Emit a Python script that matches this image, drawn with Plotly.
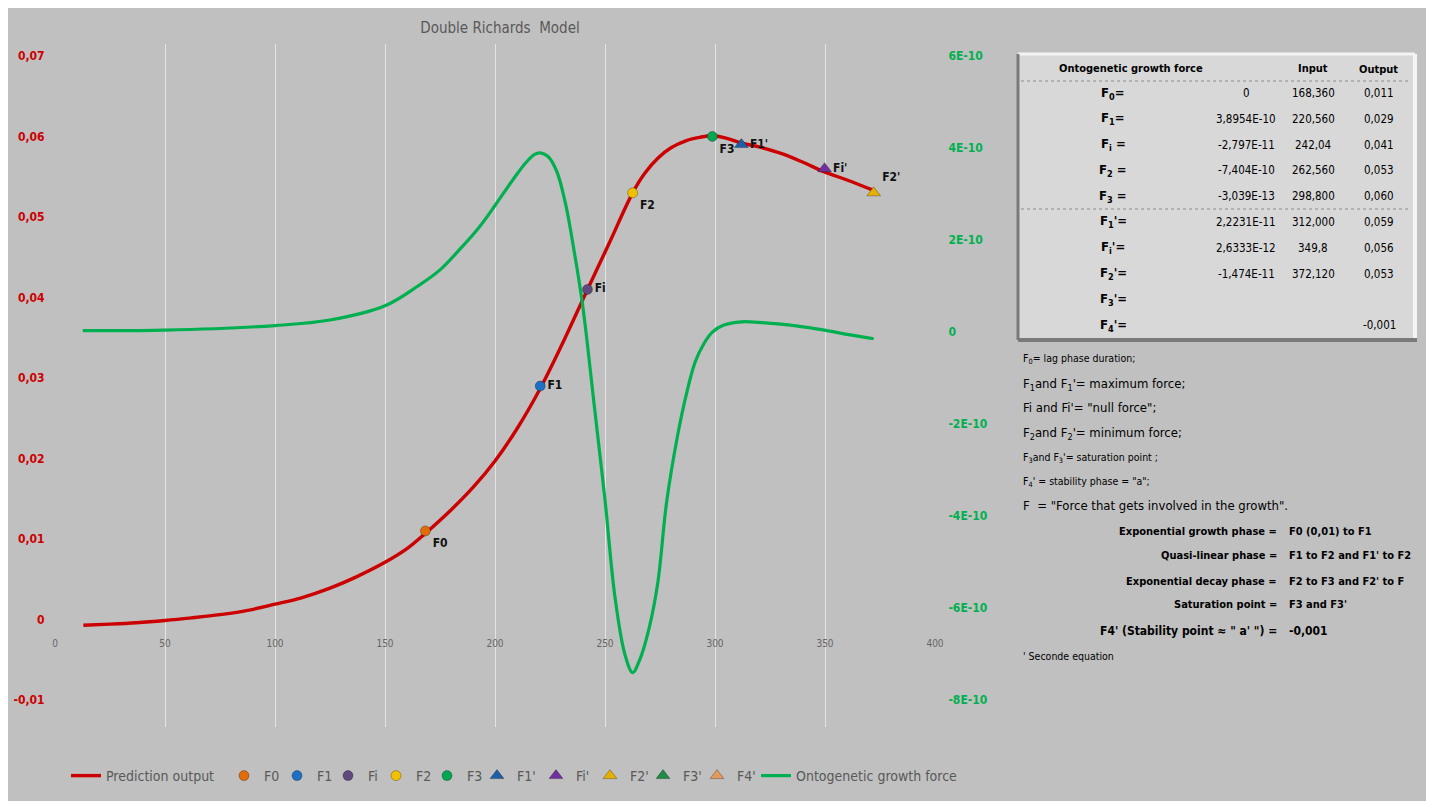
import plotly.graph_objects as go

# ---------------- data ----------------
red_x = [12.9, 25, 37, 50, 62, 75, 87, 100, 112, 125, 137, 150, 160, 168.36, 180, 190, 200, 210,
         220.56, 230, 242.04, 252, 262.56, 268, 274, 280, 287, 293, 298.8, 305, 312, 320, 330,
         340, 349.8, 360, 372.12]
red_y = [-0.00072, -0.00058, -0.0004, -0.00012, 0.0002, 0.0006, 0.0011, 0.0019, 0.0027, 0.0039,
         0.0053, 0.0071, 0.0088, 0.0107, 0.0136, 0.0164, 0.0197, 0.0237, 0.0287, 0.0339, 0.041,
         0.0468, 0.053, 0.0554, 0.0573, 0.0586, 0.0595, 0.0599, 0.0601, 0.0598, 0.0592, 0.0587,
         0.0579, 0.0568, 0.0556, 0.0546, 0.0533]

green_x = [12.6, 50, 100, 125, 150, 165, 175, 185, 193, 200, 208, 214, 218, 220.56, 224, 228,
           232, 236, 239.5, 242.04, 245, 250, 254.5, 259, 262.56, 266, 270, 274, 278, 283, 287,
           291, 295, 298.8, 304, 312, 320, 330, 340, 349.8, 360, 372.12]
green_y = [0.03e-10, 0.04e-10, 0.14e-10, 0.26e-10, 0.57e-10, 1.0e-10, 1.35e-10, 1.85e-10,
           2.29e-10, 2.75e-10, 3.3e-10, 3.68e-10, 3.86e-10, 3.8954e-10, 3.82e-10, 3.5e-10,
           2.8e-10, 1.75e-10, 0.7e-10, -0.28e-10, -1.55e-10, -3.65e-10, -5.75e-10, -7.0e-10,
           -7.404e-10, -7.1e-10, -6.45e-10, -5.45e-10, -3.7e-10, -2.25e-10, -1.35e-10,
           -0.65e-10, -0.25e-10, -0.003e-10, 0.15e-10, 0.222e-10, 0.21e-10, 0.17e-10, 0.11e-10,
           0.04e-10, -0.05e-10, -0.147e-10]

pt_names = ["F0", "F1", "Fi", "F2", "F3", "F1'", "Fi'", "F2'", "F3'", "F4'"]
pt_input = [168.36, 220.56, 242.04, 262.56, 298.8, 312.0, 349.8, 372.12, None, None]
pt_output = [0.011, 0.029, 0.041, 0.053, 0.060, 0.059, 0.056, 0.053, None, -0.001]
pt_symbol = ["circle"] * 5 + ["triangle-up"] * 5
pt_color = ["#e36c0a", "#1f6fc5", "#604a7b", "#f2c000", "#00a650",
            "#1f5fa8", "#7030a0", "#e6b000", "#1e8c45", "#e39a5c"]
pt_textpos = ["bottom right", "middle right", "middle right", "bottom right", "bottom right",
              "middle right", "middle right", "top right", "middle right", "middle right"]

left_ticks = [-0.01, 0, 0.01, 0.02, 0.03, 0.04, 0.05, 0.06, 0.07]
left_text = ["-0,01", "0", "0,01", "0,02", "0,03", "0,04", "0,05", "0,06", "0,07"]
right_ticks = [-8e-10, -6e-10, -4e-10, -2e-10, 0, 2e-10, 4e-10, 6e-10]
right_text = ["-8E-10", "-6E-10", "-4E-10", "-2E-10", "0", "2E-10", "4E-10", "6E-10"]
x_ticks = [0, 50, 100, 150, 200, 250, 300, 350, 400]

tbl_header = ["Ontogenetic growth force", "Input", "Output"]
tbl_labels = ["F<sub>0</sub>=", "F<sub>1</sub>=", "F<sub>i</sub> =", "F<sub>2</sub> =", "F<sub>3</sub> =",
              "F<sub>1</sub>'=", "F<sub>i</sub>'=", "F<sub>2</sub>'=", "F<sub>3</sub>'=", "F<sub>4</sub>'="]
tbl_force = ["0", "3,8954E-10", "-2,797E-11", "-7,404E-10", "-3,039E-13",
             "2,2231E-11", "2,6333E-12", "-1,474E-11", "", ""]
tbl_input = ["168,360", "220,560", "242,04", "262,560", "298,800", "312,000", "349,8", "372,120", "", ""]
tbl_output = ["0,011", "0,029", "0,041", "0,053", "0,060", "0,059", "0,056", "0,053", "", "-0,001"]

notes = ["F<sub>0</sub>= lag phase duration;",
         "F<sub>1</sub>and F<sub>1</sub>'= maximum force;",
         "Fi and Fi'= \"null force\";",
         "F<sub>2</sub>and F<sub>2</sub>'= minimum force;",
         "F<sub>3</sub>and F<sub>3</sub>'= saturation point ;",
         "F<sub>4</sub>' = stability phase = \"a\";",
         "F  = \"Force that gets involved in the growth\"."]
phase_labels = ["Exponential growth phase =", "Quasi-linear phase =", "Exponential decay phase =",
                "Saturation point =", "F4' (Stability point ≈ \" a' \") ="]
phase_values = ["F0 (0,01) to F1", "F1 to F2 and F1' to F2", "F2 to F3 and F2' to F",
                "F3 and F3'", "-0,001"]
footnote = "' Seconde equation"

# ---------------- layout geometry ----------------
# positions below are screen pixels of the reference; the page body adds an 8px offset
OFF = 8
W, H = 1440 - OFF, 801 - OFF
PL, PR, PT, PB = 55, 935, 44, 727          # plot area (screen px)
Y_TOP_PX, Y_BOT_PX = 56, 700               # screen px of 0.07 / -0.01 ticks
lpp = (0.07 - (-0.01)) / (Y_BOT_PX - Y_TOP_PX)
rpp = (6e-10 - (-8e-10)) / (Y_BOT_PX - Y_TOP_PX)
l_range = [-0.01 - (PB - Y_BOT_PX) * lpp, 0.07 + (Y_TOP_PX - PT) * lpp]
r_range = [-8e-10 - (PB - Y_BOT_PX) * rpp, 6e-10 + (Y_TOP_PX - PT) * rpp]


def fx(px):
    return (px - PL) / (PR - PL)


def fy(py):
    return (PB - py) / (PB - PT)


def cx(px):
    return (px - OFF) / W


def cy(py):
    return 1 - (py - OFF) / H


BG = "#c0c0c0"
FONT = "DejaVu Sans Condensed, DejaVu Sans, sans-serif"

fig = go.Figure()
fig.add_trace(go.Scatter(x=red_x, y=red_y, mode="lines", name="Prediction output", legend="legend",
                         line=dict(color="#cc0000", width=3.4, shape="spline", smoothing=1.0)))
for i, n in enumerate(pt_names):
    has = pt_input[i] is not None
    fig.add_trace(go.Scatter(
        x=[pt_input[i]] if has else [None], y=[pt_output[i]] if has else [None],
        mode="markers+text", name=n, text=[n] if has else None, textposition=pt_textpos[i],
        legend="legend%d" % (i + 2),
        textfont=dict(family=FONT, size=12, color="#111111", weight="bold"),
        marker=dict(symbol=pt_symbol[i], color=pt_color[i],
                    size=10 if pt_symbol[i] == "circle" else 12,
                    line=dict(width=0.8, color="rgba(0,0,0,0.35)"))))
fig.add_trace(go.Scatter(x=green_x, y=green_y, mode="lines", name="Ontogenetic growth force",
                         yaxis="y2", legend="legend12",
                         line=dict(color="#00b050", width=3.2, shape="spline", smoothing=1.0)))

ann = []
shapes = []
# right frame
shapes.append(dict(type="rect", xref="paper", yref="paper", x0=fx(1426), x1=fx(1445),
                   y0=fy(815), y1=fy(-5), fillcolor="white", line=dict(width=0), layer="above"))
shapes.append(dict(type="line", xref="paper", yref="paper", x0=fx(1436.5), x1=fx(1436.5),
                   y0=fy(0), y1=fy(815), line=dict(color="black", width=2.5), layer="above"))

# table box
TX0, TX1, TY0, TY1 = 1018, 1415, 54, 340
shapes.append(dict(type="rect", xref="paper", yref="paper", x0=fx(TX0), x1=fx(TX1),
                   y0=fy(TY1), y1=fy(TY0), fillcolor="#d8d8d8", line=dict(width=0)))
shapes.append(dict(type="line", xref="paper", yref="paper", x0=fx(TX0), x1=fx(TX1),
                   y0=fy(TY0), y1=fy(TY0), line=dict(color="#f4f4f4", width=3)))
shapes.append(dict(type="line", xref="paper", yref="paper", x0=fx(TX1), x1=fx(TX1),
                   y0=fy(TY0), y1=fy(TY1), line=dict(color="#f4f4f4", width=4)))
shapes.append(dict(type="line", xref="paper", yref="paper", x0=fx(TX0), x1=fx(TX0),
                   y0=fy(TY0), y1=fy(TY1), line=dict(color="#7a7a7a", width=3)))
shapes.append(dict(type="line", xref="paper", yref="paper", x0=fx(TX0), x1=fx(TX1 + 2),
                   y0=fy(TY1), y1=fy(TY1), line=dict(color="#7a7a7a", width=4)))
for yy in (81, 209):
    shapes.append(dict(type="line", xref="paper", yref="paper", x0=fx(1021), x1=fx(1411),
                       y0=fy(yy), y1=fy(yy), line=dict(color="#8c8c8c", width=1, dash="dot")))


def add_text(px, py, text, size, anchor="left", bold=False, color="black"):
    if not text:
        return
    ann.append(dict(xref="paper", yref="paper", x=fx(px), y=fy(py),
                    text=("<b>%s</b>" % text) if bold else text,
                    showarrow=False, xanchor=anchor, yanchor="middle",
                    font=dict(family=FONT, size=size, color=color)))


add_text(1131, 68, tbl_header[0], 11, "center", True)
add_text(1313, 68, tbl_header[1], 11, "center", True)
add_text(1378, 70, tbl_header[2], 11, "center", True)
for i in range(len(tbl_labels)):
    yy = 93 + i * 25.8
    add_text(1113, yy, tbl_labels[i], 13, "center", True)
    add_text(1246, yy, tbl_force[i], 11.5, "center")
    add_text(1313, yy, tbl_input[i], 11.5, "center")
    add_text(1379, yy, tbl_output[i], 11.5, "center")

note_y = [359, 384, 407, 433, 458, 482, 505]
note_size = [10.5, 13, 13, 13, 10.5, 10.5, 13]
for t, yy, s in zip(notes, note_y, note_size):
    add_text(1021, yy, t, s, "left")

phase_y = [531, 555, 581, 604, 631]
for i in range(len(phase_labels)):
    s = 11 if i < 4 else 12
    add_text(1279, phase_y[i], phase_labels[i], s, "right", True)
    add_text(1287, phase_y[i], phase_values[i], s, "left", True)
add_text(1021, 656, footnote, 10.5, "left")

# legends: one per trace, placed at the reference positions
leg_sym_x = [88, 246, 299, 350, 398, 449, 499, 558, 612, 665, 719, 778]
legends = {}
for k, sx in enumerate(leg_sym_x):
    key = "legend" if k == 0 else "legend%d" % (k + 1)
    legends[key] = dict(xref="container", yref="container", x=cx(sx - 22), y=cy(776),
                        xanchor="left", yanchor="middle", orientation="h",
                        font=dict(size=14, color="#595959", family=FONT),
                        bgcolor="rgba(0,0,0,0)", borderwidth=0, itemwidth=30)

fig.update_layout(
    width=W, height=H,
    margin=dict(l=PL - OFF, r=W - (PR - OFF), t=PT - OFF, b=H - (PB - OFF), autoexpand=False),
    paper_bgcolor=BG, plot_bgcolor=BG,
    font=dict(family=FONT, color="#595959"),
    title=dict(text="Double Richards  Model", xref="container", yref="container",
               x=cx(500), xanchor="center", y=cy(28), yanchor="middle",
               font=dict(family=FONT, size=15, color="#595959")),
    xaxis=dict(range=[0, 400], tickvals=x_ticks, showgrid=True, gridcolor="#e4e4e4", gridwidth=1.3,
               zeroline=False, showline=False, anchor="free", position=fy(620),
               ticks="outside", ticklen=14, tickcolor="rgba(0,0,0,0)",
               tickfont=dict(size=10, color="#666666", family=FONT)),
    yaxis=dict(range=l_range, tickvals=left_ticks, ticktext=left_text, showgrid=False,
               zeroline=False, showline=False, ticks="outside", ticklen=7,
               tickcolor="rgba(0,0,0,0)",
               tickfont=dict(size=12, color="#cc0000", family=FONT, weight="bold")),
    yaxis2=dict(range=r_range, tickvals=right_ticks, ticktext=right_text, overlaying="y",
                side="right", showgrid=False, zeroline=False, showline=False, ticks="outside",
                ticklen=10, tickcolor="rgba(0,0,0,0)",
                tickfont=dict(size=12, color="#00b050", family=FONT, weight="bold")),
    annotations=ann, shapes=shapes,
    showlegend=True,
    **legends,
)

fig.write_html("out.html")
